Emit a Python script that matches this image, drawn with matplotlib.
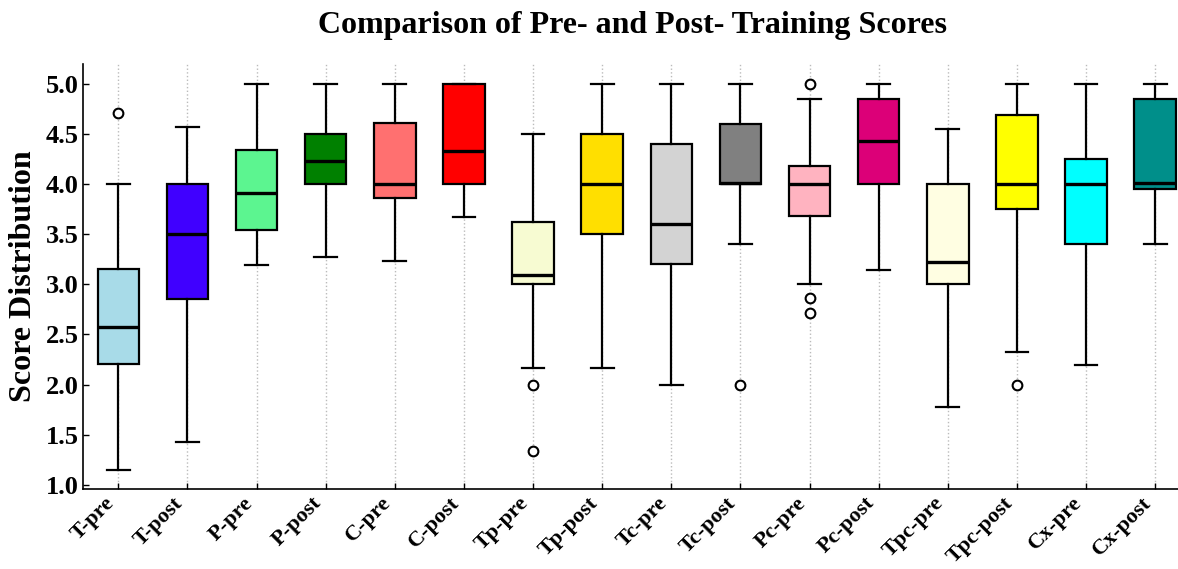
import matplotlib
matplotlib.use('Agg')
import matplotlib.pyplot as plt

plt.rcParams['font.family'] = ['Liberation Serif', 'DejaVu Serif']
plt.rcParams['font.weight'] = 'bold'

# box statistics
labels = ['T-pre', 'T-post', 'P-pre', 'P-post', 'C-pre', 'C-post', 'Tp-pre', 'Tp-post',
          'Tc-pre', 'Tc-post', 'Pc-pre', 'Pc-post', 'Tpc-pre', 'Tpc-post', 'Cx-pre', 'Cx-post']
whislo = [1.15, 1.43, 3.19, 3.27, 3.23, 3.67, 2.17, 2.17, 2.0, 3.4, 3.0, 3.14, 1.78, 2.33, 2.2, 3.4]
q1 = [2.21, 2.85, 3.54, 4.0, 3.86, 4.0, 3.0, 3.5, 3.2, 4.0, 3.68, 4.0, 3.0, 3.75, 3.4, 3.95]
med = [2.57, 3.5, 3.91, 4.23, 4.0, 4.33, 3.09, 4.0, 3.6, 4.01, 4.0, 4.43, 3.22, 4.0, 4.0, 4.01]
q3 = [3.15, 4.0, 4.34, 4.5, 4.61, 5.0, 3.62, 4.5, 4.4, 4.6, 4.18, 4.85, 4.0, 4.69, 4.25, 4.85]
whishi = [4.0, 4.57, 5.0, 5.0, 5.0, 5.0, 4.5, 5.0, 5.0, 5.0, 4.85, 5.0, 4.55, 5.0, 5.0, 5.0]
fliers = [[4.71], [], [], [], [], [], [2.0, 1.34], [], [], [2.0], [5.0, 2.86, 2.71], [], [], [2.0], [], []]
colors = ['#a8dbe8', '#4000ff', '#5cf590', '#008000', '#ff7070', '#ff0000', '#f7fbd2', '#ffdf00',
          '#d3d3d3', '#808080', '#ffb3c0', '#dc0078', '#fffee2', '#ffff00', '#00ffff', '#008f8a']

stats = []
for i in range(len(labels)):
    stats.append(dict(label=labels[i], whislo=whislo[i], q1=q1[i], med=med[i],
                      q3=q3[i], whishi=whishi[i], fliers=fliers[i]))

fig = plt.figure(figsize=(11.78, 5.69), dpi=100)
ax = fig.add_axes([0.0705, 0.1406, 0.9295, 0.7469])

bp = ax.bxp(stats, widths=0.6, capwidths=0.33, patch_artist=True,
            boxprops=dict(edgecolor='black', linewidth=1.6),
            medianprops=dict(color='black', linewidth=2.4),
            whiskerprops=dict(color='black', linewidth=1.6),
            capprops=dict(color='black', linewidth=1.6),
            flierprops=dict(marker='o', markerfacecolor='white', markeredgecolor='black',
                            markersize=7, markeredgewidth=1.5))
for patch, c in zip(bp['boxes'], colors):
    patch.set_facecolor(c)

ax.set_xlim(0.49, 16.33)
ax.set_ylim(0.96, 5.196)
ax.set_yticks([1.0, 1.5, 2.0, 2.5, 3.0, 3.5, 4.0, 4.5, 5.0])
ax.set_yticklabels(['%.1f' % v for v in ax.get_yticks()], fontsize=19, fontweight='bold')
ax.set_xticklabels(labels, rotation=45, ha='right', fontsize=16, fontweight='bold')
ax.tick_params(direction='in', length=4, width=1, pad=3)
ax.xaxis.grid(True, linestyle=':', color='#bbbbbb', linewidth=1)
ax.set_axisbelow(True)
for s in ['top', 'right']:
    ax.spines[s].set_visible(False)
ax.spines['left'].set_linewidth(1.2)
ax.spines['bottom'].set_linewidth(1.2)

ax.set_ylabel('Score Distribution', fontsize=23, fontweight='bold', labelpad=6)
fig.suptitle('Comparison of Pre- and Post- Training Scores', x=0.537, y=0.98,
             fontsize=23, fontweight='bold')

fig.savefig('out.png', dpi=100)
